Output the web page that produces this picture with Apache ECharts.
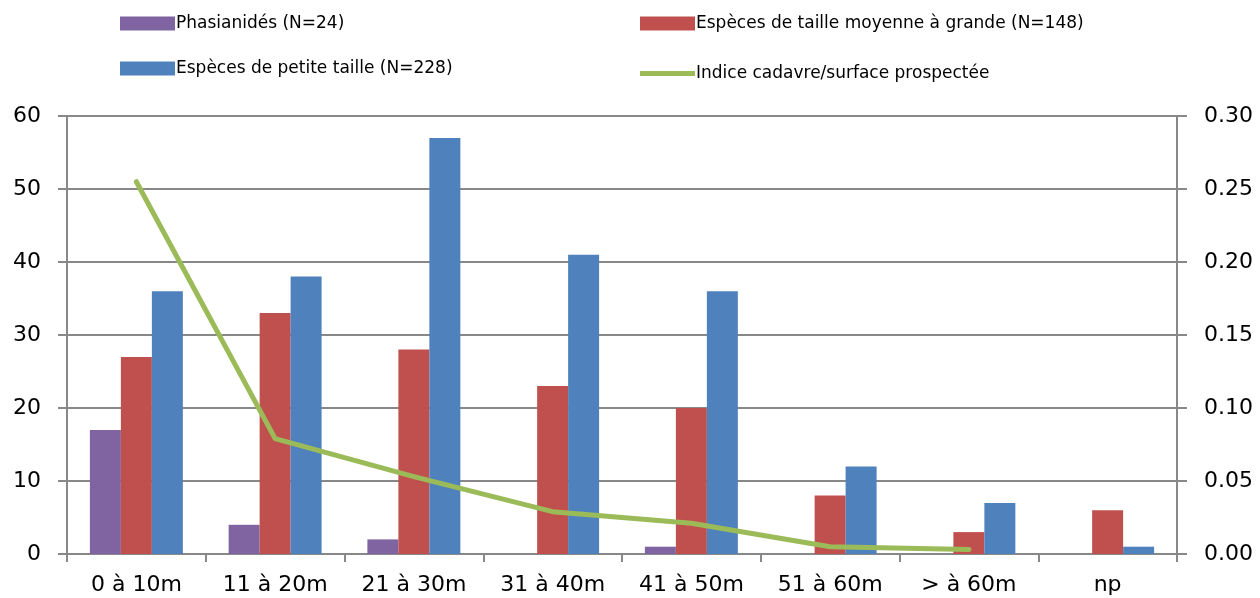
<!DOCTYPE html>
<html><head><meta charset="utf-8">
<script src="https://cdn.jsdelivr.net/npm/echarts@6/dist/echarts.min.js"></script>
<style>html,body{margin:0;padding:0;background:#fff}#c{width:1260px;height:598px}</style>
</head><body><div id="c"></div>
<script>
const categories = ['0 à 10m','11 à 20m','21 à 30m','31 à 40m','41 à 50m','51 à 60m','> à 60m','np'];
const phasianides = [17,4,2,0,1,0,0,0];
const moyenneGrande = [27,33,28,23,20,8,3,6];
const petiteTaille = [36,38,57,41,36,12,7,1];
const indice = [0.255,0.079,0.053,0.029,0.021,0.005,0.003,null];
const leftTicks = [0,10,20,30,40,50,60];
const rightTicks = [0,0.05,0.10,0.15,0.20,0.25,0.30];

const names = ['Phasianidés (N=24)','Espèces de taille moyenne à grande (N=148)','Espèces de petite taille (N=228)','Indice cadavre/surface prospectée'];
const FONT = '"DejaVu Sans", sans-serif';
const chart = echarts.init(document.getElementById('c'));
function lg(name, left, top, h){
  return {data:[{name:name, icon:'rect'}], left:left, top:top, itemWidth:55, itemHeight:h, itemGap:0, padding:0,
    textStyle:{fontFamily:FONT, fontSize:17, color:'#000', padding:[0,0,0,-4]}, selectedMode:false};
}
chart.setOption({
  animation:false,
  textStyle:{fontFamily:FONT},
  legend:[
    lg(names[0],120,15,14),
    lg(names[1],640,15,14),
    lg(names[2],120,60,14),
    lg(names[3],640,65,5)
  ],
  grid:{left:67,right:83,top:116,bottom:44},
  xAxis:{type:'category', data:categories,
    axisLine:{lineStyle:{color:'#888',width:2}},
    axisTick:{show:true, length:8, lineStyle:{color:'#888',width:2}},
    axisLabel:{fontFamily:FONT, fontSize:22, color:'#000', margin:20, interval:0, hideOverlap:false}},
  yAxis:[
    {type:'value', min:0, max:60, interval:10, position:'left',
     axisLine:{show:true, lineStyle:{color:'#888',width:2}},
     axisTick:{show:true, inside:false, length:9, lineStyle:{color:'#888',width:2}},
     splitLine:{lineStyle:{color:'#888',width:2}},
     axisLabel:{fontFamily:FONT, fontSize:22, color:'#000', margin:26,
       formatter:v=>leftTicks.includes(v)?String(v):''}},
    {type:'value', min:0, max:0.30, interval:0.05, position:'right',
     axisLine:{show:true, lineStyle:{color:'#888',width:2}},
     axisTick:{show:true, length:10, lineStyle:{color:'#888',width:2}},
     splitLine:{show:false},
     axisLabel:{fontFamily:FONT, fontSize:22, color:'#000', margin:27,
       formatter:v=>v.toFixed(2)}}
  ],
  series:[
    {name:names[0], type:'bar', data:phasianides, itemStyle:{color:'#8064A2'}, barGap:'0%', barCategoryGap:'33%'},
    {name:names[1], type:'bar', data:moyenneGrande, itemStyle:{color:'#C0504D'}, barGap:'0%', barCategoryGap:'33%'},
    {name:names[2], type:'bar', data:petiteTaille, itemStyle:{color:'#4F81BD'}, barGap:'0%', barCategoryGap:'33%'},
    {name:names[3], type:'line', yAxisIndex:1, data:indice, symbol:'none', itemStyle:{color:'#9BBB59'},
     lineStyle:{color:'#9BBB59', width:5, cap:'round', join:'round'}, z:5}
  ]
});
</script></body></html>
